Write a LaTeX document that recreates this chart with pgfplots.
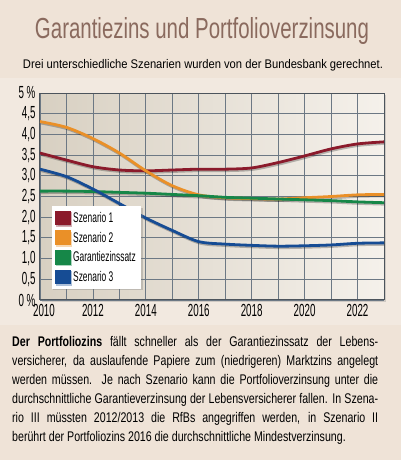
\documentclass[border=0pt]{standalone}
\usepackage{graphicx}
\usepackage{fontspec}
\setmainfont[FakeStretch=0.66]{Liberation Sans}
\newfontfamily\condfont[FakeStretch=0.56]{Liberation Sans}
\newfontfamily\legfont[FakeStretch=0.6]{Liberation Sans}
\newfontfamily\bodyfont[FakeStretch=0.76]{Liberation Sans}
\usepackage{pgfplots}
\pgfplotsset{compat=1.18}
\usepackage{pgfplotstable}
\usetikzlibrary{shadows}
\definecolor{pagebg}{RGB}{239,227,215}
\definecolor{chartbg}{RGB}{242,233,224}
\definecolor{titlec}{RGB}{138,106,94}
\definecolor{sred}{RGB}{139,26,43}
\definecolor{sorange}{RGB}{234,144,40}
\definecolor{sgreen}{RGB}{22,135,72}
\definecolor{sblue}{RGB}{22,76,148}
\definecolor{gridc}{RGB}{108,120,132}
\definecolor{bgA}{RGB}{216,208,194}
\definecolor{bgB}{RGB}{245,241,235}
\pgfplotstableread{
x y
2010 3.55
2011 3.38
2012 3.22
2013 3.14
2014 3.12
2015 3.14
2016 3.16
2017 3.16
2018 3.19
2019 3.32
2020 3.48
2021 3.65
2022 3.77
2023 3.82
}\sone
\pgfplotstableread{
x y
2010 4.31
2011 4.17
2012 3.90
2013 3.55
2014 3.12
2015 2.76
2016 2.54
2017 2.47
2018 2.45
2019 2.44
2020 2.47
2021 2.50
2022 2.54
2023 2.55
}\stwo
\pgfplotstableread{
x y
2010 2.63
2011 2.63
2012 2.62
2013 2.60
2014 2.58
2015 2.55
2016 2.52
2017 2.48
2018 2.46
2019 2.44
2020 2.42
2021 2.40
2022 2.37
2023 2.35
}\sgar
\pgfplotstableread{
x y
2010 3.16
2011 2.98
2012 2.68
2013 2.33
2014 1.98
2015 1.68
2016 1.41
2017 1.35
2018 1.32
2019 1.30
2020 1.31
2021 1.33
2022 1.37
2023 1.38
}\sthree
\begin{document}
\hyphenpenalty=10000
\begin{tikzpicture}
\useasboundingbox (0pt,0pt) rectangle (401pt,460pt);
\fill[pagebg] (0pt,0pt) rectangle (401pt,460pt);
\fill[chartbg] (0pt,135pt) rectangle (401pt,382pt);
\node[anchor=base, text=titlec, inner sep=0pt] at (202pt,421pt)
  {\resizebox{334pt}{\height}{\fontsize{29}{30}\selectfont Garantiezins und Portfolioverzinsung}};
\node[anchor=base, inner sep=0pt] at (203pt,391.5pt)
  {\resizebox{360pt}{\height}{\fontsize{12.5}{14}\selectfont Drei unterschiedliche Szenarien wurden von der Bundesbank gerechnet.}};
\begin{axis}[
  at={(40pt,160pt)}, anchor=south west,
  scale only axis, width=344pt, height=207pt,
  xmin=2010, xmax=2023, ymin=0, ymax=5,
  xtick={2010,2012,2014,2016,2018,2020,2022},
  xticklabels={\hspace{8pt}2010,2012,2014,2016,2018,2020,2022},
  minor xtick={2011,2013,2015,2017,2019,2021,2023},
  ytick={0,0.5,1,1.5,2,2.5,3,3.5,4,4.5,5},
  yticklabels={0 \%,{0,5},{1,0},{1,5},{2,0},{2,5},{3,0},{3,5},{4,0},{4,5},5 \%},
  grid=both,
  major grid style={draw=gridc, line width=0.8pt},
  minor grid style={draw=gridc, line width=0.8pt},
  major tick length=0pt, minor tick length=0pt,
  axis line style={draw=gridc!70!black, line width=1pt},
  tick label style={font=\condfont\fontsize{17.5}{18}\selectfont},
  xticklabel style={yshift=-1pt},
  yticklabel style={xshift=-1pt},
  axis background/.style={left color=bgA, right color=bgB,
     drop shadow={shadow xshift=2pt, shadow yshift=-2pt, opacity=0.3}},
  legend style={at={(rel axis cs:0.034,0.454)}, anchor=north west,
     fill=white, draw=none,
     drop shadow={shadow xshift=1.5pt, shadow yshift=-1.5pt, opacity=0.35},
     font=\legfont\fontsize{14}{15}\selectfont, inner xsep=3pt, inner ysep=4pt,
     row sep=4pt, nodes={inner xsep=2.5pt},
     /tikz/every odd column/.style={column sep=0pt},
     /tikz/every even column/.style={column sep=0pt}},
  legend cell align=left,
  legend image code/.code={\fill[#1] (0pt,-6pt) rectangle (13pt,6pt);},
  every axis plot/.append style={smooth, tension=0.5, line width=2.8pt},
]
\addplot[forget plot, black, opacity=0.25, transform canvas={xshift=1pt,yshift=-1.5pt}] table {\sone};
\addplot[forget plot, black, opacity=0.25, transform canvas={xshift=1pt,yshift=-1.5pt}] table {\stwo};
\addplot[forget plot, black, opacity=0.25, transform canvas={xshift=1pt,yshift=-1.5pt}] table {\sgar};
\addplot[forget plot, black, opacity=0.25, transform canvas={xshift=1pt,yshift=-1.5pt}] table {\sthree};
\addplot[color=sred] table {\sone};
\addplot[color=sorange] table {\stwo};
\addplot[color=sgreen] table {\sgar};
\addplot[color=sblue] table {\sthree};
\legend{Szenario 1, Szenario 2, Garantiezinssatz, Szenario 3}
\end{axis}
\node[anchor=north west, text width=366pt, align=justify, inner sep=0pt,
      font=\bodyfont\fontsize{14}{19.1}\selectfont] at (12pt,124pt)
{\sloppy\textbf{Der Portfoliozins} fällt schneller als der Garantiezinssatz der Lebens-\linebreak
versicherer, da auslaufende Papiere zum (niedrigeren) Marktzins angelegt\linebreak
werden müssen. Je nach Szenario kann die Portfolioverzinsung unter die\linebreak
durchschnittliche Garantieverzinsung der Lebensversicherer fallen. In Szena-\linebreak
rio III müssten 2012/2013 die RfBs angegriffen werden, in Szenario II\linebreak
berührt der Portfoliozins 2016 die durchschnittliche Mindestverzinsung.};
\end{tikzpicture}
\end{document}
